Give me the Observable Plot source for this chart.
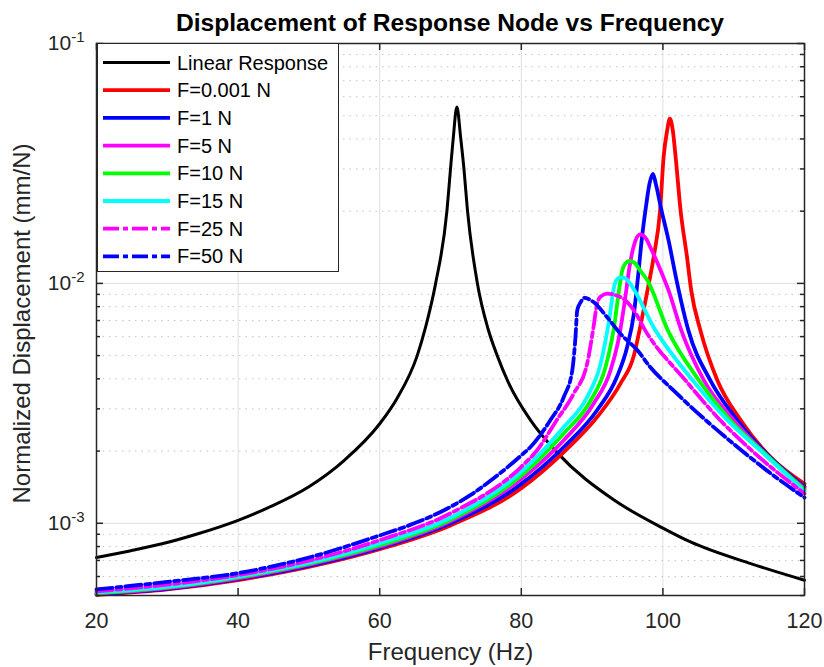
<!DOCTYPE html>
<html>
<head>
<meta charset="utf-8">
<script src="https://cdn.jsdelivr.net/npm/d3@7"></script>
<script src="https://cdn.jsdelivr.net/npm/@observablehq/plot@0.6"></script>
<style>
  body { margin: 0; background: #ffffff; }
  #wrap { position: relative; width: 824px; height: 667px; font-family: "Liberation Sans", Arial, sans-serif; }
  #title { position: absolute; left: 96px; width: 708px; top: 0; height: 46px; line-height: 46px;
           text-align: center; font-weight: bold; font-size: 24.6px; color: #000; z-index: 2; }
  #chart { position: absolute; left: 0; top: 0; }
</style>
</head>
<body>
<div id="wrap">
  <div id="title">Displacement of Response Node vs Frequency</div>
  <div id="chart"></div>
</div>
<script>
// ---------- data (frequency Hz, normalized displacement mm/N) ----------
const freqTicks = [20, 40, 60, 80, 100, 120];
const yMajorTicks = [1e-3, 1e-2, 1e-1];
const yMinorTicks = [5e-4, 6e-4, 7e-4, 8e-4, 9e-4,
  2e-3, 3e-3, 4e-3, 5e-3, 6e-3, 7e-3, 8e-3, 9e-3,
  2e-2, 3e-2, 4e-2, 5e-2, 6e-2, 7e-2, 8e-2, 9e-2];

const linearResponse = [
  [20, 7.20e-4], [24.7, 7.67e-4], [29.4, 8.23e-4], [34.1, 9.00e-4], [40, 1.029e-3],
  [44.5, 1.17e-3], [50, 1.42e-3], [55, 1.83e-3], [60, 2.60e-3], [62.4, 3.30e-3],
  [65.3, 5.00e-3], [66.5, 6.60e-3], [67.9, 1.00e-2], [69.5, 2.01e-2], [70.0, 3.00e-2],
  [70.38, 4.01e-2], [70.9, 5.43e-2], [71.45, 4.01e-2], [71.9, 3.00e-2], [72.4, 2.01e-2],
  [73.8, 1.00e-2], [75.3, 6.47e-3], [76.6, 5.00e-3], [78.2, 3.85e-3], [81.3, 2.69e-3],
  [85.0, 1.98e-3], [93.1, 1.25e-3], [100, 9.55e-4], [103.9, 8.36e-4], [112.4, 6.79e-4],
  [120, 5.79e-4]
];
const force0001 = [
  [20, 5.03e-4], [30, 5.30e-4], [40, 5.80e-4], [50, 6.58e-4], [60, 7.80e-4], [70, 9.80e-4],
  [80, 1.40e-3], [86.0, 1.98e-3], [90.7, 2.77e-3], [94.0, 3.82e-3], [95.9, 5.00e-3],
  [96.8, 6.60e-3], [97.9, 9.60e-3], [98.7, 1.29e-2], [99.6, 2.01e-2], [100.1, 3.36e-2],
  [100.6, 4.34e-2], [100.98, 4.86e-2], [101.4, 4.34e-2], [101.8, 3.36e-2], [102.5, 2.01e-2],
  [103.4, 1.29e-2], [104.0, 9.35e-3], [105.3, 6.37e-3], [107.7, 3.94e-3], [111.0, 2.69e-3],
  [115.5, 1.85e-3], [120, 1.46e-3]
];
const force1 = [
  [20, 5.06e-4], [30, 5.33e-4], [40, 5.85e-4], [50, 6.65e-4], [60, 7.90e-4], [70, 1.00e-3],
  [80, 1.46e-3], [86.0, 2.08e-3], [90.7, 2.96e-3], [93.5, 4.07e-3], [94.95, 5.43e-3],
  [95.9, 7.48e-3], [96.45, 1.04e-2], [97.0, 1.51e-2], [97.6, 2.08e-2], [98.1, 2.60e-2],
  [98.6, 2.86e-2], [99.0, 2.60e-2], [99.7, 2.08e-2], [100.8, 1.51e-2], [101.9, 1.04e-2],
  [103.6, 6.37e-3], [106.7, 3.94e-3], [110.5, 2.69e-3], [115.0, 1.90e-3], [120, 1.42e-3]
];
const force5 = [
  [20, 5.09e-4], [30, 5.37e-4], [40, 5.90e-4], [50, 6.72e-4], [60, 8.00e-4], [70, 1.02e-3],
  [80, 1.53e-3], [86.0, 2.22e-3], [90.2, 3.15e-3], [92.6, 4.34e-3], [93.8, 5.97e-3],
  [94.7, 8.77e-3], [95.2, 1.13e-2], [96.1, 1.50e-2], [96.8, 1.60e-2], [97.6, 1.54e-2],
  [98.2, 1.42e-2], [99.7, 1.13e-2], [100.8, 9.35e-3], [102.6, 6.37e-3], [105.8, 3.94e-3],
  [110.0, 2.69e-3], [115.0, 1.88e-3], [120, 1.40e-3]
];
const force10 = [
  [20, 5.11e-4], [30, 5.40e-4], [40, 5.95e-4], [50, 6.78e-4], [60, 8.10e-4], [70, 1.035e-3],
  [80, 1.58e-3], [86.0, 2.37e-3], [89.8, 3.25e-3], [91.9, 4.48e-3], [93.1, 6.58e-3],
  [93.8, 9.35e-3], [94.25, 1.13e-2], [94.7, 1.21e-2], [95.3, 1.24e-2], [96.1, 1.21e-2],
  [96.8, 1.13e-2], [97.8, 1.03e-2], [100.7, 6.37e-3], [105.1, 3.94e-3], [109.5, 2.69e-3],
  [114.2, 1.98e-3], [120, 1.38e-3]
];
const force15 = [
  [20, 5.14e-4], [30, 5.44e-4], [40, 6.00e-4], [50, 6.85e-4], [60, 8.25e-4], [70, 1.055e-3],
  [80, 1.64e-3], [86.0, 2.52e-3], [89.3, 3.36e-3], [91.2, 4.63e-3], [92.4, 7.02e-3],
  [93.1, 9.67e-3], [93.4, 1.03e-2], [94.0, 1.06e-2], [94.7, 1.05e-2], [95.0, 1.03e-2],
  [98.95, 6.37e-3], [104.2, 3.94e-3], [109.1, 2.69e-3], [114.0, 1.98e-3], [120, 1.36e-3]
];
const force25 = [
  [20, 5.20e-4], [30, 5.55e-4], [40, 6.08e-4], [50, 6.98e-4], [60, 8.50e-4], [70, 1.10e-3],
  [80, 1.72e-3], [82.2, 2.01e-3], [85.0, 2.69e-3], [87.4, 3.47e-3], [89.3, 4.63e-3],
  [90.2, 6.58e-3], [90.7, 8.22e-3], [91.2, 8.80e-3], [92.1, 9.06e-3], [94.0, 8.77e-3],
  [95.9, 7.72e-3], [97.5, 6.37e-3], [103.2, 3.94e-3], [108.1, 2.69e-3], [112.8, 1.98e-3],
  [120, 1.33e-3]
];
const force50 = [
  [20, 5.30e-4], [30, 5.70e-4], [40, 6.20e-4], [50, 7.20e-4], [60, 8.90e-4], [64.8, 9.97e-4],
  [69.5, 1.15e-3], [72.8, 1.31e-3], [76.1, 1.54e-3], [80, 1.92e-3], [81.3, 2.08e-3],
  [84.1, 2.69e-3], [86.0, 3.36e-3], [87.2, 4.34e-3], [87.65, 5.97e-3], [87.9, 7.72e-3],
  [88.4, 8.36e-3], [88.9, 8.70e-3], [90.2, 8.36e-3], [92.1, 7.24e-3], [94.0, 6.17e-3],
  [96.4, 5.26e-3], [98.2, 4.48e-3], [101.5, 3.58e-3], [106.3, 2.65e-3], [110.6, 2.07e-3],
  [115.4, 1.60e-3], [120, 1.28e-3]
];

const seriesLabels = ["Linear Response", "F=0.001 N", "F=1 N", "F=5 N", "F=10 N", "F=15 N", "F=25 N", "F=50 N"];
const seriesData = [linearResponse, force0001, force1, force5, force10, force15, force25, force50];

// ---------- styles ----------
const seriesColors = ["#000000", "#ff0000", "#0000ff", "#ff00ff", "#00ff00", "#00ffff", "#ff00ff", "#0000ff"];
const seriesWidths = [3, 3.8, 3.8, 3.8, 3.8, 3.8, 3.8, 3.8];
const seriesDashes = [null, null, null, null, null, null, "16,4,5,4", "16,4,5,4"];

const W = 824, H = 667, mL = 96, mR = 20, mT = 43, mB = 72;
const plotW = W - mL - mR, plotH = H - mT - mB;
const axisColor = "#262626";

const lineMarks = seriesData.map((data, i) => Plot.line(data, {
  x: d => d[0], y: d => d[1],
  stroke: seriesColors[i], strokeWidth: seriesWidths[i],
  strokeDasharray: seriesDashes[i] || undefined,
  strokeLinejoin: "round",
  curve: "monotone-x"
}));

const chart = Plot.plot({
  width: W, height: H,
  marginLeft: mL, marginRight: mR, marginTop: mT, marginBottom: mB,
  style: { fontFamily: "'Liberation Sans', Arial, sans-serif", fontSize: "21px", color: axisColor, background: "transparent", overflow: "visible" },
  x: { domain: [20, 120], label: null },
  y: { type: "log", domain: [5e-4, 1e-1], label: null },
  marks: [
    Plot.gridX(freqTicks, { stroke: "#dedede", strokeOpacity: 1, strokeWidth: 1 }),
    Plot.gridY(yMinorTicks, { stroke: "#c4c4c4", strokeOpacity: 1, strokeWidth: 1, strokeDasharray: "1.5,5" }),
    Plot.gridY(yMajorTicks, { stroke: "#dedede", strokeOpacity: 1, strokeWidth: 1 }),
    ...lineMarks,
    Plot.tickX(freqTicks, { x: d => d, insetTop: plotH - 7, stroke: axisColor, strokeWidth: 1.5 }),
    Plot.tickX(freqTicks, { x: d => d, insetBottom: plotH - 7, stroke: axisColor, strokeWidth: 1.5 }),
    Plot.tickY(yMajorTicks, { y: d => d, insetRight: plotW - 7, stroke: axisColor, strokeWidth: 1.5 }),
    Plot.tickY(yMajorTicks, { y: d => d, insetLeft: plotW - 7, stroke: axisColor, strokeWidth: 1.5 }),
    Plot.tickY(yMinorTicks, { y: d => d, insetRight: plotW - 4, stroke: axisColor, strokeWidth: 1.5 }),
    Plot.tickY(yMinorTicks, { y: d => d, insetLeft: plotW - 4, stroke: axisColor, strokeWidth: 1.5 }),
    Plot.frame({ stroke: axisColor, strokeWidth: 1.5 }),
    Plot.axisX(freqTicks, { tickSize: 0, tickPadding: 17, fontSize: 21.5, label: null, tickFormat: d => String(d) }),
    Plot.axisY(yMajorTicks, { tickSize: 0, tickPadding: 12, fontSize: 21, label: null,
      tickFormat: d => "10^" + Math.round(Math.log10(d)) }),
    Plot.text(["Frequency (Hz)"], { frameAnchor: "bottom", dy: 57, fontSize: 24, fill: axisColor, lineAnchor: "middle", textAnchor: "middle" }),
    Plot.text(["Normalized Displacement (mm/N)"], { frameAnchor: "left", dx: -74, dy: 4, rotate: -90, fontSize: 24, fill: axisColor, lineAnchor: "middle", textAnchor: "middle" })
  ]
});

document.getElementById("chart").appendChild(chart);

// superscript exponents for the log tick labels
const svg = d3.select(chart);
svg.selectAll('g[aria-label="y-axis tick label"] text').each(function () {
  const t = d3.select(this);
  const s = t.text();
  const parts = s.split("^");
  if (parts.length === 2) {
    t.text("");
    t.append("tspan").text(parts[0]);
    t.append("tspan").attr("dy", "-0.55em").attr("font-size", "15px").text(parts[1]);
  }
});

// legend box (north-west, MATLAB style)
const lg = svg.append("g").attr("font-family", "'Liberation Sans', Arial, sans-serif").attr("font-size", 20)
  .attr("text-anchor", "start");
lg.append("rect").attr("x", mL + 1.5).attr("y", mT + 0.5).attr("width", 241).attr("height", 228)
  .attr("fill", "#ffffff").attr("stroke", axisColor).attr("stroke-width", 1);
seriesLabels.forEach((label, i) => {
  const yy = mT + 19.5 + i * 27.7;
  lg.append("line").attr("x1", mL + 7).attr("x2", mL + 74).attr("y1", yy).attr("y2", yy)
    .attr("stroke", seriesColors[i]).attr("stroke-width", seriesWidths[i])
    .attr("stroke-dasharray", seriesDashes[i]);
  lg.append("text").attr("x", mL + 81).attr("y", yy).attr("dy", "0.35em")
    .attr("text-anchor", "start").attr("fill", "#000").text(label);
});
</script>
</body>
</html>
